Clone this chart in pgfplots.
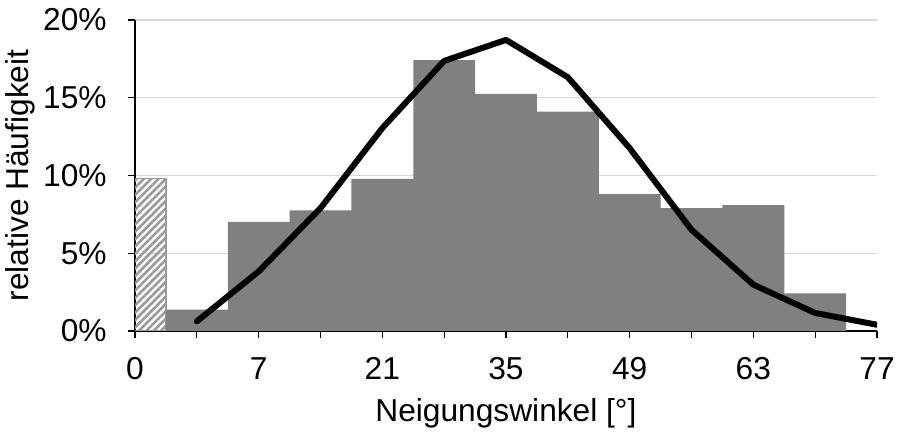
\documentclass[border=0pt]{standalone}
\usepackage{fontspec}
\setmainfont{Liberation Sans}
\usepackage{pgfplots}
\pgfplotsset{compat=1.18}
\usetikzlibrary{patterns.meta}
\definecolor{bargray}{HTML}{808080}
\definecolor{gridgray}{HTML}{D9D9D9}
\definecolor{hatchgray}{HTML}{9A9A9A}
\newcommand{\lf}{\fontsize{15.85bp}{19bp}\selectfont}
\begin{document}
\begin{tikzpicture}
\useasboundingbox (-67.5bp,-51bp) rectangle (383bp,165.5bp);
\begin{axis}[
  at={(0,0)}, anchor=south west,
  scale only axis, width=371bp, height=155.5bp,
  xmin=0, xmax=12, ymin=0, ymax=20,
  axis x line*=bottom, axis y line*=left,
  axis line style={black, line width=0.6bp, -},
  xtick={0,...,12},
  xticklabels={0,,7,,21,,35,,49,,63,,77},
  ytick={0,5,10,15,20},
  yticklabels={0\%,5\%,10\%,15\%,20\%},
  tick align=outside, major tick length=3.5bp,
  tick style={black, line width=0.6bp},
  ymajorgrids, grid style={gridgray, line width=0.6bp},
  xticklabel style={font=\lf, anchor=north, inner sep=0pt},
  yticklabel style={font=\lf, anchor=east, inner sep=0pt},
  xticklabel shift=9.5bp,
  yticklabel shift=10.5bp,
  every axis x label/.style={at={(axis description cs:0.5,0)}, anchor=base, yshift=-45bp, font=\lf},
  every axis y label/.style={at={(axis description cs:0,0.5)}, xshift=-53bp, rotate=90, anchor=base, font=\lf},
  xlabel={Neigungswinkel [°]},
  ylabel={relative Häufigkeit},
]
\addplot[ybar, bar width=1, bar shift=0pt, draw=hatchgray, line width=0.6bp,
  pattern={Lines[angle=45,distance=2.6bp,line width=1.3bp]}, pattern color=hatchgray]
  coordinates {(0,9.83)};
\addplot[ybar, bar width=1, bar shift=0pt, fill=bargray, draw=none]
  coordinates {(1,1.37) (2,7.02) (3,7.75) (4,9.79) (5,17.42) (6,15.25)
               (7,14.11) (8,8.80) (9,7.90) (10,8.10) (11,2.42)};
\addplot[black, line width=3bp, line join=round, line cap=round, mark=none]
  coordinates {(1,0.62) (2,3.83) (3,7.90) (4,13.05) (5,17.37) (6,18.72)
               (7,16.32) (8,11.76) (9,6.51) (10,2.98) (11,1.16) (12,0.40)};
\end{axis}
\end{tikzpicture}
\end{document}
